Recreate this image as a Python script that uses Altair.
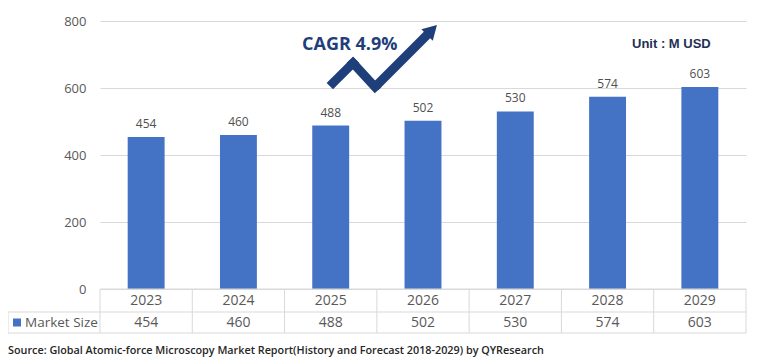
import altair as alt
import pandas as pd

years = ["2023", "2024", "2025", "2026", "2027", "2028", "2029"]
market_size = [454, 460, 488, 502, 530, 574, 603]
y_ticks = [0, 200, 400, 600, 800]
series_label = "Market Size"
cagr_label = "CAGR 4.9%"
unit_label = "Unit : M USD"
source_label = ("Source: Global Atomic-force Microscopy Market Report(History and "
                "Forecast 2018-2029) by QYResearch")

df = pd.DataFrame({"year": years, "value": market_size})
one = pd.DataFrame({"k": [0]})

W, H = 646, 268
FONT = "Open Sans"
GRID = "#D9D9D9"
NAVY = "#1F3F7A"

x_enc = alt.X("year:N", sort=years, axis=None,
              scale=alt.Scale(paddingInner=0, paddingOuter=0))
y_axis = alt.Y("value:Q", scale=alt.Scale(domain=[0, 800]),
               axis=alt.Axis(values=y_ticks, title=None, domain=False, ticks=False,
                             labelColor="#595959", labelFontSize=13, labelFont=FONT,
                             labelPadding=14, gridColor=GRID, grid=True))
y_plain = alt.Y("value:Q")

bars = alt.Chart(df).mark_bar(color="#4472C4", width=alt.RelativeBandSize(0.4)).encode(
    x=x_enc, y=y_axis)
bar_labels = alt.Chart(df).mark_text(dy=-13, fontSize=12, font=FONT, color="#505050").encode(
    x=x_enc, y=y_plain, text="value:Q")

# table
row_year = alt.Chart(df).mark_text(fontSize=14, font=FONT, color="#595959").encode(
    x=x_enc, y=alt.value(280), text="year:N")
row_val = alt.Chart(df).mark_text(fontSize=14, font=FONT, color="#595959").encode(
    x=x_enc, y=alt.value(301.5), text="value:Q")
vlines = alt.Chart(df).mark_rule(color=GRID).encode(
    x=alt.X("year:N", sort=years, bandPosition=0), y=alt.value(268), y2=alt.value(312))

def rule(x1, x2, y1, y2, color=GRID, width=1, cap="butt"):
    return alt.Chart(one).mark_rule(color=color, strokeWidth=width, strokeCap=cap).encode(
        x=alt.value(x1), x2=alt.value(x2), y=alt.value(y1), y2=alt.value(y2))

table_lines = [
    rule(W, W, 268, 312),
    rule(-92, -92, 291, 312),
    rule(0, W, 268, 268),
    rule(-92, W, 291, 291),
    rule(-92, W, 312, 312),
]

legend_sq = alt.Chart(one).mark_square(size=64, color="#4472C4", opacity=1).encode(
    x=alt.value(-83), y=alt.value(301.5))
legend_txt = alt.Chart(one).mark_text(align="left", fontSize=13.5, font=FONT, color="#595959").encode(
    x=alt.value(-75), y=alt.value(301.5), text=alt.value(series_label))

source = alt.Chart(one).mark_text(align="left", fontSize=10.8, font=FONT, fontWeight=600,
                                  color="#262626").encode(
    x=alt.value(-92), y=alt.value(330), text=alt.value(source_label))

cagr = alt.Chart(one).mark_text(align="left", fontSize=18, font=FONT, fontWeight="bold",
                                color=NAVY).encode(
    x=alt.value(202), y=alt.value(24), text=alt.value(cagr_label))
unit = alt.Chart(one).mark_text(align="left", fontSize=13, font="Liberation Sans",
                                fontWeight="bold", color="#1F2F55").encode(
    x=alt.value(532), y=alt.value(23), text=alt.value(unit_label))

arrow = [
    rule(233, 253, 62, 42, NAVY, 9, "square"),
    rule(253, 275, 42, 66, NAVY, 9, "square"),
    rule(275, 330, 66, 11, NAVY, 9, "butt"),
]
arrow_head = alt.Chart(one).mark_point(shape="triangle-up", angle=45, size=260, filled=True,
                                       color=NAVY, opacity=1).encode(
    x=alt.value(332), y=alt.value(9))

chart = alt.layer(
    bars, bar_labels, row_year, row_val, vlines, *table_lines, legend_sq, legend_txt,
    source, cagr, unit, *arrow, arrow_head
).properties(
    width=W, height=H, autosize=alt.AutoSizeParams(type="none"),
    padding={"left": 92, "top": 13, "right": 8, "bottom": 71}
).configure_view(stroke=None)

chart.save("out.html", embed_options={"renderer": "svg", "actions": False})
